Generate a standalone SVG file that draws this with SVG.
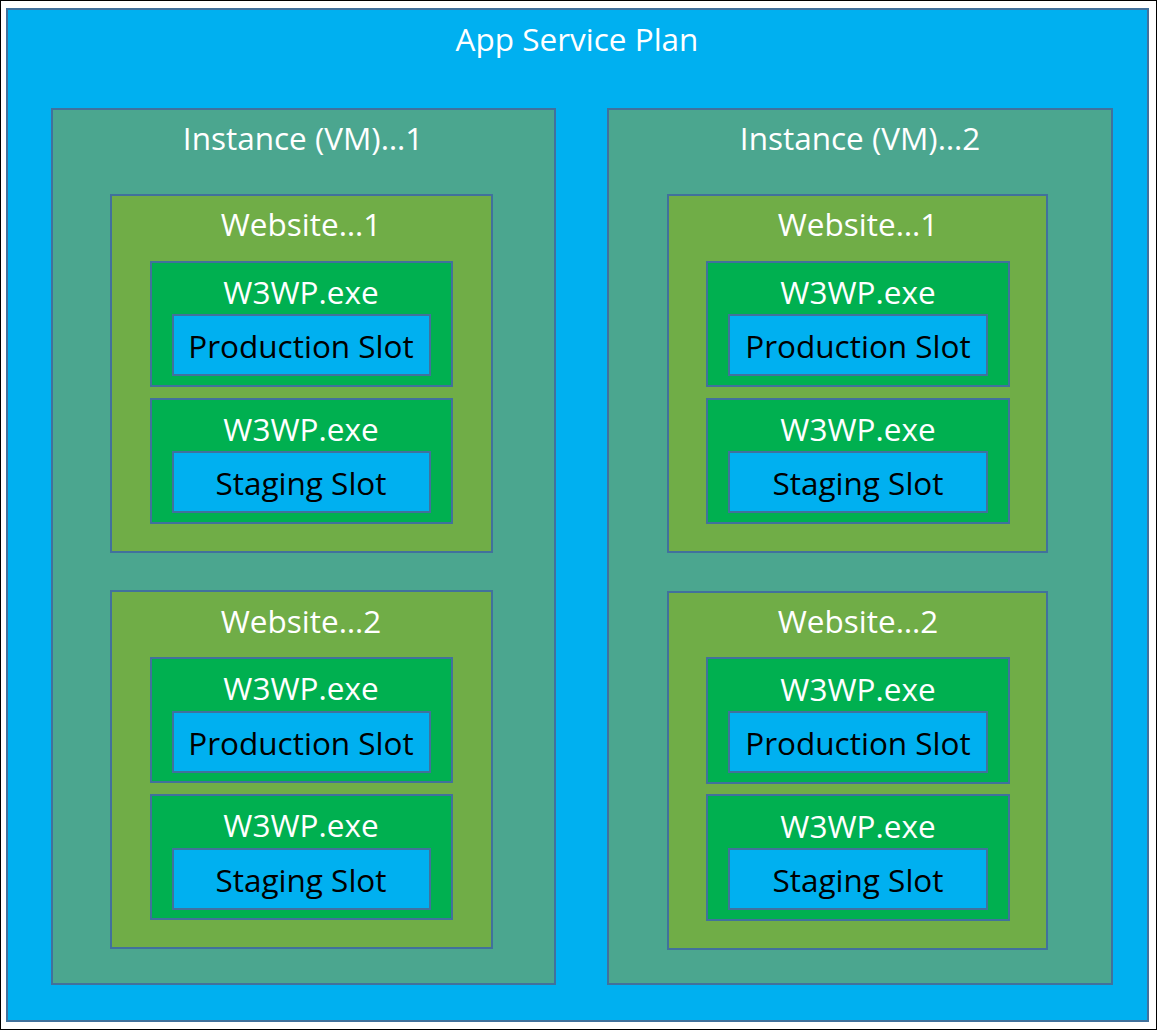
<svg xmlns="http://www.w3.org/2000/svg" width="1157" height="1030" viewBox="0 0 1157 1030">
<style>
.b{stroke:#41719C;stroke-width:2}
.plan{fill:#00B0F0}
.inst{fill:#4BA68F}
.web{fill:#70AD47}
.proc{fill:#00B050}
.slot{fill:#00B0F0}
text{font-family:"Open Sans","Noto Sans","DejaVu Sans",sans-serif;font-size:31.5px;text-anchor:middle}
.w{fill:#FFFFFF}
.k{fill:#000000}
</style>
<rect x="0.5" y="0.5" width="1156" height="1029" fill="#FFFFFF" stroke="#000000" stroke-width="1"/>
<g id="plan">
<rect class="b plan" x="7" y="9" width="1141" height="1012"/>
<text class="w" x="577" y="51">App Service Plan</text>
</g>
<g id="instance1">
<rect class="b inst" x="52" y="109" width="503" height="875"/>
<text class="w" x="303" y="150">Instance (VM)…1</text>
</g>
<g id="instance2">
<rect class="b inst" x="608" y="109" width="504" height="875"/>
<text class="w" x="860" y="150">Instance (VM)…2</text>
</g>
<g id="i1-website1">
<rect class="b web" x="111" y="195" width="381" height="357"/>
<text class="w" x="301" y="236">Website…1</text>
</g>
<g id="i1-w1-w3wp1">
<rect class="b proc" x="151" y="262" width="301" height="124"/>
<text class="w" x="301" y="304">W3WP.exe</text>
</g>
<g id="i1-w1-prod">
<rect class="b slot" x="173" y="315" width="257" height="60"/>
<text class="k" x="301" y="358">Production Slot</text>
</g>
<g id="i1-w1-w3wp2">
<rect class="b proc" x="151" y="399" width="301" height="124"/>
<text class="w" x="301" y="441">W3WP.exe</text>
</g>
<g id="i1-w1-stage">
<rect class="b slot" x="173" y="452" width="257" height="60"/>
<text class="k" x="301" y="495">Staging Slot</text>
</g>
<g id="i1-website2">
<rect class="b web" x="111" y="591" width="381" height="357"/>
<text class="w" x="301" y="633">Website…2</text>
</g>
<g id="i1-w2-w3wp1">
<rect class="b proc" x="151" y="658" width="301" height="124"/>
<text class="w" x="301" y="700">W3WP.exe</text>
</g>
<g id="i1-w2-prod">
<rect class="b slot" x="173" y="712" width="257" height="60"/>
<text class="k" x="301" y="755">Production Slot</text>
</g>
<g id="i1-w2-w3wp2">
<rect class="b proc" x="151" y="795" width="301" height="124"/>
<text class="w" x="301" y="837">W3WP.exe</text>
</g>
<g id="i1-w2-stage">
<rect class="b slot" x="173" y="849" width="257" height="60"/>
<text class="k" x="301" y="892">Staging Slot</text>
</g>
<g id="i2-website1">
<rect class="b web" x="668" y="195" width="379" height="357"/>
<text class="w" x="858" y="236">Website…1</text>
</g>
<g id="i2-w1-w3wp1">
<rect class="b proc" x="707" y="262" width="302" height="124"/>
<text class="w" x="858" y="304">W3WP.exe</text>
</g>
<g id="i2-w1-prod">
<rect class="b slot" x="729" y="315" width="258" height="60"/>
<text class="k" x="858" y="358">Production Slot</text>
</g>
<g id="i2-w1-w3wp2">
<rect class="b proc" x="707" y="399" width="302" height="124"/>
<text class="w" x="858" y="441">W3WP.exe</text>
</g>
<g id="i2-w1-stage">
<rect class="b slot" x="729" y="452" width="258" height="60"/>
<text class="k" x="858" y="495">Staging Slot</text>
</g>
<g id="i2-website2">
<rect class="b web" x="668" y="592" width="379" height="357"/>
<text class="w" x="858" y="633">Website…2</text>
</g>
<g id="i2-w2-w3wp1">
<rect class="b proc" x="707" y="658" width="302" height="125"/>
<text class="w" x="858" y="701">W3WP.exe</text>
</g>
<g id="i2-w2-prod">
<rect class="b slot" x="729" y="712" width="258" height="60"/>
<text class="k" x="858" y="755">Production Slot</text>
</g>
<g id="i2-w2-w3wp2">
<rect class="b proc" x="707" y="795" width="302" height="125"/>
<text class="w" x="858" y="838">W3WP.exe</text>
</g>
<g id="i2-w2-stage">
<rect class="b slot" x="729" y="849" width="258" height="60"/>
<text class="k" x="858" y="892">Staging Slot</text>
</g>
<g id="connectors"></g>
</svg>
